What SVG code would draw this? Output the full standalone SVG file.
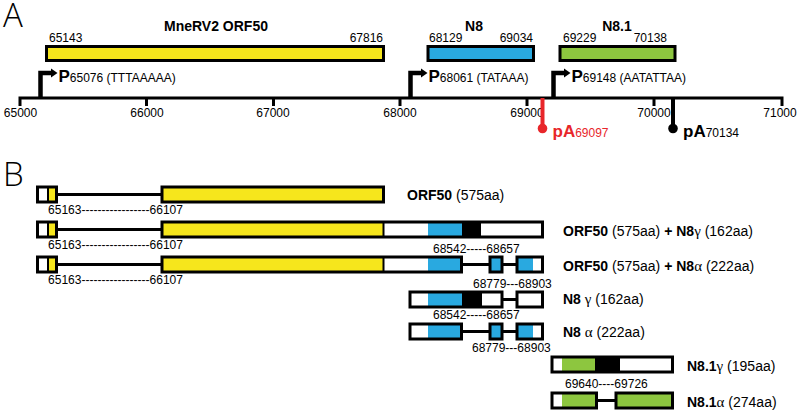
<svg xmlns="http://www.w3.org/2000/svg" width="800" height="411" viewBox="0 0 800 411">
<style>
text{font-family:"Liberation Sans",Arial,sans-serif;fill:#000}
.num{font-size:12px}
.title{font-size:14px;font-weight:bold;text-anchor:middle}
.tick{font-size:12px;text-anchor:middle}
.panel{font-family:"Open Sans","Liberation Sans",sans-serif;font-size:33px;font-weight:300}
.lab{font-size:14px}
.b{font-weight:bold}
.gr{font-family:"Liberation Serif",serif;font-size:15px}
.P{font-size:17px;font-weight:bold}
.pa{font-size:17px;font-weight:bold}
.box{fill:none;stroke:#000;stroke-width:3}
.ln{fill:none;stroke:#000;stroke-width:3}
.y{fill:#f6e61c}.bl{fill:#29a9e0}.g{fill:#8dc63f}.k{fill:#000}.w{fill:#fff}
.prom{fill:none;stroke:#000;stroke-width:4.5}
</style>
<defs>
<g id="small"><rect x="37.5" y="0" width="19" height="15" class="w"/><rect x="48" y="0" width="8.5" height="15" class="y"/><line x1="48" y1="0" x2="48" y2="15" stroke="#000" stroke-width="2"/><rect x="37.5" y="0" width="19" height="15" class="box"/></g>
</defs>

<text class="panel" x="3" y="27">A</text>
<text class="panel" x="3" y="186">B</text>

<g id="axis">
<path class="ln" d="M20,106 V98 H782 V106 M146.5,98 V106 M273.5,98 V106 M400,98 V106 M527,98 V106 M654,98 V106"/>
<text class="tick" x="20.5" y="117">65000</text>
<text class="tick" x="147" y="117">66000</text>
<text class="tick" x="273" y="117">67000</text>
<text class="tick" x="400" y="117">68000</text>
<text class="tick" x="527" y="117">69000</text>
<text class="tick" x="654" y="117">70000</text>
<text class="tick" x="780" y="117">71000</text>
</g>

<g id="gene-orf50">
<text class="title" x="216" y="30.5">MneRV2 ORF50</text>
<text class="num" x="49" y="42">65143</text>
<text class="num" x="383" y="42" text-anchor="end">67816</text>
<rect x="46.5" y="46.5" width="337" height="14" class="y" stroke="#000" stroke-width="3"/>
</g>
<g id="gene-n8">
<text class="title" x="474" y="30.5">N8</text>
<text class="num" x="429" y="42">68129</text>
<text class="num" x="533" y="42" text-anchor="end">69034</text>
<rect x="428" y="46.5" width="105.5" height="14" class="bl" stroke="#000" stroke-width="3"/>
</g>
<g id="gene-n81">
<text class="title" x="617" y="30.5">N8.1</text>
<text class="num" x="563" y="42">69229</text>
<text class="num" x="667" y="42" text-anchor="end">70138</text>
<rect x="560" y="46.5" width="115" height="14" class="g" stroke="#000" stroke-width="3"/>
</g>

<g id="promoter-65076">
<path class="prom" d="M40.5,98 V73 H52"/>
<polygon points="51,68.5 57.5,73 51,77.5"/>
<text x="58.5" y="82"><tspan class="P">P</tspan><tspan class="num">65076 (TTTAAAAA)</tspan></text>
</g>
<g id="promoter-68061">
<path class="prom" d="M410.5,98 V73 H422"/>
<polygon points="421,68.5 427.5,73 421,77.5"/>
<text x="428.5" y="82"><tspan class="P">P</tspan><tspan class="num">68061 (TATAAA)</tspan></text>
</g>
<g id="promoter-69148">
<path class="prom" d="M553.5,98 V73 H565"/>
<polygon points="564,68.5 570.5,73 564,77.5"/>
<text x="571.5" y="82"><tspan class="P">P</tspan><tspan class="num">69148 (AATATTAA)</tspan></text>
</g>
<g id="pa-69097">
<line x1="542.5" y1="98" x2="542.5" y2="128" stroke="#e8262a" stroke-width="4"/>
<circle cx="542.5" cy="128.5" r="4.8" fill="#e8262a"/>
<text x="552.5" y="136.5" style="fill:#e8262a"><tspan class="pa" style="fill:#e8262a">pA</tspan><tspan class="num" style="fill:#e8262a">69097</tspan></text>
</g>
<g id="pa-70134">
<line x1="673" y1="98" x2="673" y2="128" stroke="#000" stroke-width="4"/>
<circle cx="673" cy="128.5" r="4.8" fill="#000"/>
<text x="683" y="136.5"><tspan class="pa">pA</tspan><tspan class="num">70134</tspan></text>
</g>

<g id="connectors">
<line class="ln" x1="56" y1="194.5" x2="162" y2="194.5"/>
<line class="ln" x1="56" y1="229.5" x2="162" y2="229.5"/>
<line class="ln" x1="56" y1="264.5" x2="162" y2="264.5"/>
<line class="ln" x1="462" y1="264.5" x2="490" y2="264.5"/>
<line class="ln" x1="502" y1="264.5" x2="517" y2="264.5"/>
<line class="ln" x1="502" y1="299.5" x2="517" y2="299.5"/>
<line class="ln" x1="462" y1="331.5" x2="490" y2="331.5"/>
<line class="ln" x1="502" y1="331.5" x2="517" y2="331.5"/>
<line class="ln" x1="596" y1="400.5" x2="616" y2="400.5"/>
</g>

<g id="row-orf50">
<use href="#small" y="187"/>
<rect x="162" y="187" width="221.5" height="15" class="y"/>
<rect x="162" y="187" width="221.5" height="15" class="box"/>
<text class="num" x="48" y="214" textLength="135">65163-----------------66107</text>
<text class="lab" x="407" y="200"><tspan class="b">ORF50</tspan> (575aa)</text>
</g>

<g id="row-orf50-n8g">
<use href="#small" y="222"/>
<rect x="162" y="222" width="380.5" height="15" class="w"/>
<rect x="162" y="222" width="221.5" height="15" class="y" stroke="#000" stroke-width="2"/>
<rect x="428" y="222" width="34" height="15" class="bl"/>
<rect x="462" y="222" width="19" height="15" class="k"/>
<rect x="162" y="222" width="380.5" height="15" class="box"/>
<text class="num" x="48" y="249" textLength="135">65163-----------------66107</text>
<text class="lab" x="563" y="235.5"><tspan class="b">ORF50</tspan> (575aa)  <tspan class="b">+ N8</tspan><tspan class="gr">γ</tspan> (162aa)</text>
</g>

<g id="row-orf50-n8a">
<use href="#small" y="257"/>
<rect x="162" y="257" width="299.5" height="15" class="w"/>
<rect x="162" y="257" width="221.5" height="15" class="y" stroke="#000" stroke-width="2"/>
<rect x="428" y="257" width="33.5" height="15" class="bl"/>
<rect x="162" y="257" width="299.5" height="15" class="box"/>
<rect x="490" y="257" width="12" height="15" class="bl"/>
<rect x="490" y="257" width="12" height="15" class="box"/>
<rect x="517" y="257" width="25.5" height="15" class="w"/>
<rect x="517" y="257" width="16" height="15" class="bl"/>
<rect x="517" y="257" width="25.5" height="15" class="box"/>
<text class="num" x="48" y="284" textLength="135">65163-----------------66107</text>
<text class="num" x="433" y="253">68542-----68657</text>
<text class="lab" x="563" y="270.5"><tspan class="b">ORF50</tspan> (575aa)  <tspan class="b">+ N8</tspan><tspan class="gr">α</tspan> (222aa)</text>
</g>

<g id="row-n8g">
<rect x="410" y="292" width="92" height="15" class="w"/>
<rect x="428" y="292" width="34" height="15" class="bl"/>
<rect x="462" y="292" width="20" height="15" class="k"/>
<rect x="410" y="292" width="92" height="15" class="box"/>
<rect x="517" y="292" width="25.5" height="15" class="w"/>
<rect x="517" y="292" width="25.5" height="15" class="box"/>
<text class="num" x="473" y="288">68779---68903</text>
<text class="lab" x="563" y="304"><tspan class="b">N8</tspan> <tspan class="gr">γ</tspan> (162aa)</text>
</g>

<g id="row-n8a">
<rect x="410" y="324" width="51.5" height="15" class="w"/>
<rect x="428" y="324" width="33.5" height="15" class="bl"/>
<rect x="410" y="324" width="51.5" height="15" class="box"/>
<rect x="490" y="324" width="12" height="15" class="bl"/>
<rect x="490" y="324" width="12" height="15" class="box"/>
<rect x="517" y="324" width="25.5" height="15" class="w"/>
<rect x="517" y="324" width="16" height="15" class="bl"/>
<rect x="517" y="324" width="25.5" height="15" class="box"/>
<text class="num" x="433" y="319">68542-----68657</text>
<text class="num" x="472" y="352">68779---68903</text>
<text class="lab" x="563" y="336.5"><tspan class="b">N8</tspan> <tspan class="gr">α</tspan> (222aa)</text>
</g>

<g id="row-n81g">
<rect x="552" y="357" width="120.5" height="15" class="w"/>
<rect x="562" y="357" width="33" height="15" class="g"/>
<rect x="595" y="357" width="25" height="15" class="k"/>
<rect x="552" y="357" width="120.5" height="15" class="box"/>
<text class="lab" x="687" y="370.5"><tspan class="b">N8.1</tspan><tspan class="gr">γ</tspan> (195aa)</text>
</g>

<g id="row-n81a">
<rect x="552" y="393" width="44.5" height="15" class="w"/>
<rect x="562" y="393" width="34.5" height="15" class="g"/>
<rect x="552" y="393" width="44.5" height="15" class="box"/>
<rect x="616" y="393" width="56.5" height="15" class="g"/>
<rect x="616" y="393" width="56.5" height="15" class="box"/>
<text class="num" x="565" y="388">69640----69726</text>
<text class="lab" x="687" y="406.5"><tspan class="b">N8.1</tspan><tspan class="gr">α</tspan> (274aa)</text>
</g>
</svg>
